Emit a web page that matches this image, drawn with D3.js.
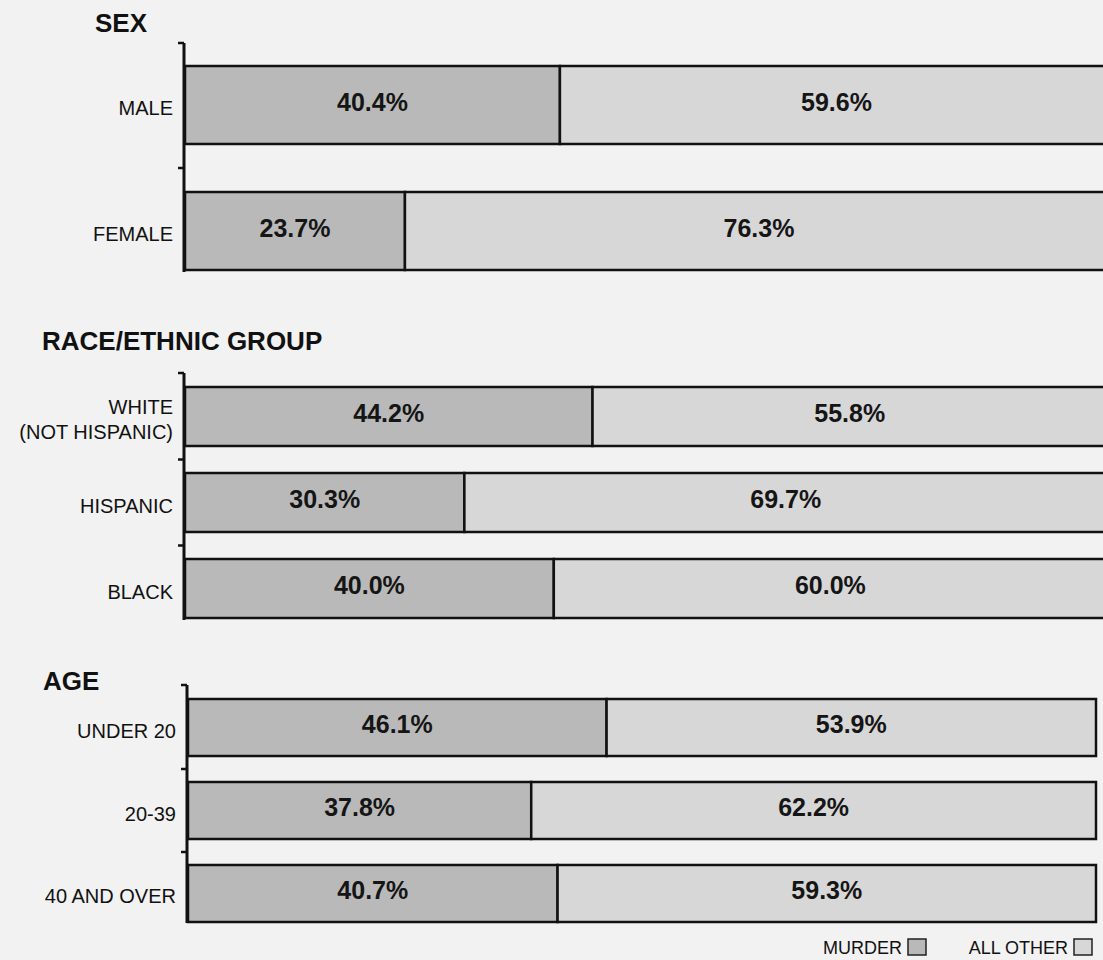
<!DOCTYPE html>
<html>
<head>
<meta charset="utf-8">
<script src="https://cdn.jsdelivr.net/npm/d3@7"></script>
<style>
  html, body { margin: 0; padding: 0; background: #f2f2f2; }
  svg { display: block; font-family: "Liberation Sans", Arial, Helvetica, sans-serif; }
</style>
</head>
<body>
<svg id="chart" width="1103" height="960"></svg>
<script>
// values
const sexCats = [["MALE"], ["FEMALE"]];
const sexMurder = [40.4, 23.7];
const sexOther = [59.6, 76.3];

const raceCats = [["WHITE", "(NOT HISPANIC)"], ["HISPANIC"], ["BLACK"]];
const raceMurder = [44.2, 30.3, 40.0];
const raceOther = [55.8, 69.7, 60.0];

const ageCats = [["UNDER 20"], ["20-39"], ["40 AND OVER"]];
const ageMurder = [46.1, 37.8, 40.7];
const ageOther = [53.9, 62.2, 59.3];

const legendLabels = ["MURDER", "ALL OTHER"];

const murderColor = "#b9b9b9";
const otherColor = "#d7d7d7";

const svg = d3.select("#chart");

function drawPanel(cfg) {
    const rows = cfg.cats.map((c, i) => ({
        label: c, murder: cfg.murder[i], other: cfg.other[i]
    }));

    const x = d3.scaleLinear().domain([0, 100]).range([cfg.x0, cfg.x1]);
    const y = d3.scaleBand()
        .domain(d3.range(rows.length))
        .range([cfg.barTop, cfg.barBottom])
        .paddingInner(cfg.pad)
        .paddingOuter(0);

    const g = svg.append("g");

    g.append("text")
        .attr("x", cfg.titleX)
        .attr("y", cfg.titleY)
        .attr("font-size", 26)
        .attr("font-weight", "bold")
        .attr("fill", "#111")
        .text(cfg.title);

    const bars = g.selectAll("g.row").data(rows).join("g").attr("class", "row");

    bars.append("rect")
        .attr("x", x(0))
        .attr("y", (d, i) => y(i))
        .attr("width", d => x(d.murder) - x(0))
        .attr("height", y.bandwidth())
        .attr("fill", murderColor)
        .attr("stroke", "#111")
        .attr("stroke-width", 2.5);

    bars.append("rect")
        .attr("x", d => x(d.murder))
        .attr("y", (d, i) => y(i))
        .attr("width", d => x(d.murder + d.other) - x(d.murder))
        .attr("height", y.bandwidth())
        .attr("fill", otherColor)
        .attr("stroke", "#111")
        .attr("stroke-width", 2.5);

    bars.append("text")
        .attr("x", d => (x(0) + x(d.murder)) / 2)
        .attr("y", (d, i) => y(i) + y.bandwidth() / 2 - 3)
        .attr("dy", "0.35em")
        .attr("text-anchor", "middle")
        .attr("font-size", 25)
        .attr("font-weight", "bold")
        .attr("fill", "#151515")
        .text(d => d.murder.toFixed(1) + "%");

    bars.append("text")
        .attr("x", d => (x(d.murder) + x(d.murder + d.other)) / 2)
        .attr("y", (d, i) => y(i) + y.bandwidth() / 2 - 3)
        .attr("dy", "0.35em")
        .attr("text-anchor", "middle")
        .attr("font-size", 25)
        .attr("font-weight", "bold")
        .attr("fill", "#151515")
        .text(d => d.other.toFixed(1) + "%");

    // category labels, one tspan per line
    bars.append("text")
        .attr("text-anchor", "end")
        .attr("font-size", 20)
        .attr("fill", "#111")
        .each(function (d, i) {
            const n = d.label.length;
            const cy = y(i) + y.bandwidth() / 2 + 3;
            d3.select(this).selectAll("tspan").data(d.label).join("tspan")
                .attr("x", cfg.axisX - 11)
                .attr("y", (t, k) => cy + (k - (n - 1) / 2) * 25)
                .attr("dy", "0.35em")
                .text(t => t);
        });

    // axis: vertical line with ticks at the top and between bars
    const step = y.step();
    const tickYs = [cfg.axisTop].concat(
        d3.range(1, rows.length).map(i => y(i) - step * cfg.pad / 2)
    );
    g.append("line")
        .attr("x1", cfg.axisX).attr("x2", cfg.axisX)
        .attr("y1", cfg.axisTop).attr("y2", cfg.axisBottom)
        .attr("stroke", "#111").attr("stroke-width", 3);
    g.selectAll("line.tick").data(tickYs).join("line")
        .attr("class", "tick")
        .attr("x1", cfg.axisX - 6).attr("x2", cfg.axisX)
        .attr("y1", d => d).attr("y2", d => d)
        .attr("stroke", "#111").attr("stroke-width", 2.5);
}

drawPanel({
    title: "SEX", titleX: 95, titleY: 32,
    cats: sexCats, murder: sexMurder, other: sexOther,
    axisX: 184, axisTop: 43, axisBottom: 272,
    barTop: 66, barBottom: 270, pad: 0.381,
    x0: 185, x1: 1113
});

drawPanel({
    title: "RACE/ETHNIC GROUP", titleX: 42, titleY: 350,
    cats: raceCats, murder: raceMurder, other: raceOther,
    axisX: 184, axisTop: 373, axisBottom: 620,
    barTop: 387, barBottom: 618, pad: 0.314,
    x0: 185, x1: 1107
});

drawPanel({
    title: "AGE", titleX: 43, titleY: 690,
    cats: ageCats, murder: ageMurder, other: ageOther,
    axisX: 187, axisTop: 685, axisBottom: 923,
    barTop: 699, barBottom: 922, pad: 0.313,
    x0: 188, x1: 1096
});

// legend, bottom right
const legend = svg.append("g");
const legendX = [902, 1068];
const legendFill = [murderColor, otherColor];
legendLabels.forEach((lab, i) => {
    legend.append("text")
        .attr("x", legendX[i])
        .attr("y", 954)
        .attr("text-anchor", "end")
        .attr("font-size", 18)
        .attr("fill", "#111")
        .text(lab);
    legend.append("rect")
        .attr("x", legendX[i] + 6)
        .attr("y", 939)
        .attr("width", 18)
        .attr("height", 16)
        .attr("fill", legendFill[i])
        .attr("stroke", "#222")
        .attr("stroke-width", 1.5);
});
</script>
</body>
</html>
